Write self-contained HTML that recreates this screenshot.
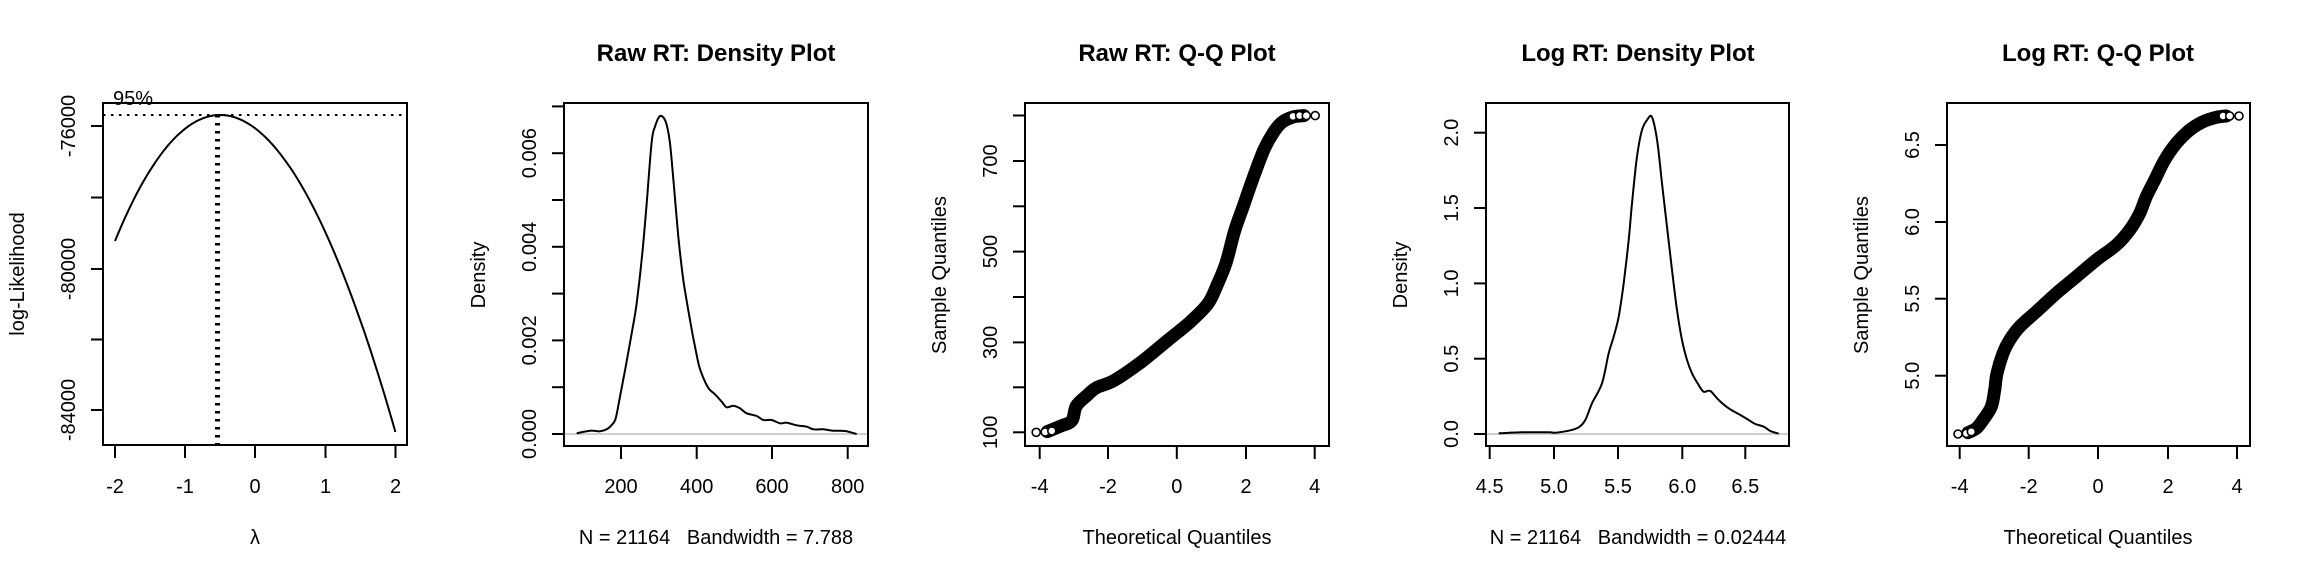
<!DOCTYPE html>
<html><head><meta charset="utf-8"><style>
html,body{margin:0;padding:0;background:#fff;}
svg{display:block;font-family:"Liberation Sans",Arial,sans-serif;}
.t{font-size:24px;font-weight:bold;text-anchor:middle;}
.l{font-size:20px;text-anchor:middle;}
.box{fill:none;stroke:#000;stroke-width:2;}
.tk{stroke:#000;stroke-width:2;}
.c{fill:none;stroke:#000;stroke-width:2;stroke-linejoin:round;}
.q{fill:none;stroke:#000;stroke-width:13;stroke-linejoin:round;stroke-linecap:round;}
.pt{fill:#fff;stroke:#000;stroke-width:1.6;}
</style></head><body>
<svg width="2304" height="576" viewBox="0 0 2304 576" xmlns="http://www.w3.org/2000/svg">
<!-- Panel 1: Box-Cox -->
<rect class="box" x="103" y="103" width="304" height="342"/>
<line x1="103" y1="115" x2="407" y2="115" stroke="#000" stroke-width="2" stroke-dasharray="2.5 5.5"/>
<line x1="217.5" y1="115" x2="217.5" y2="445" stroke="#000" stroke-width="5" stroke-dasharray="2.5 5.5"/>
<path id="p1" class="c" d=""/>
<text x="113" y="105" style="font-size:20px">95%</text>
<g class="tk">
<line x1="91" y1="126" x2="103" y2="126"/><line x1="91" y1="197.5" x2="103" y2="197.5"/><line x1="91" y1="269" x2="103" y2="269"/><line x1="91" y1="339.5" x2="103" y2="339.5"/><line x1="91" y1="410" x2="103" y2="410"/>
<line x1="115" y1="445" x2="115" y2="458"/><line x1="185" y1="445" x2="185" y2="458"/><line x1="255" y1="445" x2="255" y2="458"/><line x1="325.5" y1="445" x2="325.5" y2="458"/><line x1="395.5" y1="445" x2="395.5" y2="458"/>
</g>
<g class="l">
<text transform="translate(75,126) rotate(-90)">-76000</text>
<text transform="translate(75,269) rotate(-90)">-80000</text>
<text transform="translate(75,410) rotate(-90)">-84000</text>
<text x="115" y="493">-2</text><text x="185" y="493">-1</text><text x="255" y="493">0</text><text x="325.5" y="493">1</text><text x="395.5" y="493">2</text>
<text x="255" y="544">λ</text>
<text transform="translate(24,274) rotate(-90)">log-Likelihood</text>
</g>

<!-- Panel 2: Raw density -->
<text class="t" x="716" y="61">Raw RT: Density Plot</text>
<line x1="564" y1="434" x2="868" y2="434" stroke="#bebebe" stroke-width="1.5"/>
<path id="p2" class="c" d=""/>
<rect class="box" x="564" y="103" width="304" height="343"/>
<g class="tk">
<line x1="552" y1="434" x2="564" y2="434"/><line x1="552" y1="387.2" x2="564" y2="387.2"/><line x1="552" y1="340.4" x2="564" y2="340.4"/><line x1="552" y1="293.6" x2="564" y2="293.6"/><line x1="552" y1="246.8" x2="564" y2="246.8"/><line x1="552" y1="200" x2="564" y2="200"/><line x1="552" y1="153.2" x2="564" y2="153.2"/><line x1="552" y1="106.4" x2="564" y2="106.4"/>
<line x1="621" y1="446" x2="621" y2="459"/><line x1="696.7" y1="446" x2="696.7" y2="459"/><line x1="772" y1="446" x2="772" y2="459"/><line x1="847.7" y1="446" x2="847.7" y2="459"/>
</g>
<g class="l">
<text transform="translate(536,434) rotate(-90)">0.000</text>
<text transform="translate(536,340.4) rotate(-90)">0.002</text>
<text transform="translate(536,246.8) rotate(-90)">0.004</text>
<text transform="translate(536,153.2) rotate(-90)">0.006</text>
<text x="621" y="493">200</text><text x="696.7" y="493">400</text><text x="772" y="493">600</text><text x="847.7" y="493">800</text>
<text x="716" y="544" xml:space="preserve">N = 21164   Bandwidth = 7.788</text>
<text transform="translate(485,275) rotate(-90)">Density</text>
</g>

<!-- Panel 3: Raw QQ -->
<text class="t" x="1177" y="61">Raw RT: Q-Q Plot</text>
<path id="p3" class="q" d=""/>
<g id="p3pts"></g>
<rect class="box" x="1025" y="103" width="304" height="343"/>
<g class="tk">
<line x1="1013" y1="432.3" x2="1025" y2="432.3"/><line x1="1013" y1="387.3" x2="1025" y2="387.3"/><line x1="1013" y1="342.4" x2="1025" y2="342.4"/><line x1="1013" y1="297" x2="1025" y2="297"/><line x1="1013" y1="251.6" x2="1025" y2="251.6"/><line x1="1013" y1="206.3" x2="1025" y2="206.3"/><line x1="1013" y1="161" x2="1025" y2="161"/><line x1="1013" y1="115.5" x2="1025" y2="115.5"/>
<line x1="1039.7" y1="446" x2="1039.7" y2="459"/><line x1="1108" y1="446" x2="1108" y2="459"/><line x1="1176.8" y1="446" x2="1176.8" y2="459"/><line x1="1246" y1="446" x2="1246" y2="459"/><line x1="1314.7" y1="446" x2="1314.7" y2="459"/>
</g>
<g class="l">
<text transform="translate(997,432.3) rotate(-90)">100</text>
<text transform="translate(997,342.4) rotate(-90)">300</text>
<text transform="translate(997,251.6) rotate(-90)">500</text>
<text transform="translate(997,161) rotate(-90)">700</text>
<text x="1039.7" y="493">-4</text><text x="1108" y="493">-2</text><text x="1176.8" y="493">0</text><text x="1246" y="493">2</text><text x="1314.7" y="493">4</text>
<text x="1177" y="544">Theoretical Quantiles</text>
<text transform="translate(946,275) rotate(-90)">Sample Quantiles</text>
</g>

<!-- Panel 4: Log density -->
<text class="t" x="1638" y="61">Log RT: Density Plot</text>
<line x1="1486" y1="434" x2="1789" y2="434" stroke="#bebebe" stroke-width="1.5"/>
<path id="p4" class="c" d=""/>
<rect class="box" x="1486" y="103" width="303" height="343"/>
<g class="tk">
<line x1="1474" y1="434" x2="1486" y2="434"/><line x1="1474" y1="358.7" x2="1486" y2="358.7"/><line x1="1474" y1="283.4" x2="1486" y2="283.4"/><line x1="1474" y1="208" x2="1486" y2="208"/><line x1="1474" y1="132.7" x2="1486" y2="132.7"/>
<line x1="1489.7" y1="446" x2="1489.7" y2="459"/><line x1="1554" y1="446" x2="1554" y2="459"/><line x1="1618" y1="446" x2="1618" y2="459"/><line x1="1682.3" y1="446" x2="1682.3" y2="459"/><line x1="1745.3" y1="446" x2="1745.3" y2="459"/>
</g>
<g class="l">
<text transform="translate(1458,434) rotate(-90)">0.0</text>
<text transform="translate(1458,358.7) rotate(-90)">0.5</text>
<text transform="translate(1458,283.4) rotate(-90)">1.0</text>
<text transform="translate(1458,208) rotate(-90)">1.5</text>
<text transform="translate(1458,132.7) rotate(-90)">2.0</text>
<text x="1489.7" y="493">4.5</text><text x="1554" y="493">5.0</text><text x="1618" y="493">5.5</text><text x="1682.3" y="493">6.0</text><text x="1745.3" y="493">6.5</text>
<text x="1638" y="544" xml:space="preserve">N = 21164   Bandwidth = 0.02444</text>
<text transform="translate(1407,275) rotate(-90)">Density</text>
</g>

<!-- Panel 5: Log QQ -->
<text class="t" x="2098" y="61">Log RT: Q-Q Plot</text>
<path id="p5" class="q" d=""/>
<g id="p5pts"></g>
<rect class="box" x="1947" y="103" width="303" height="343"/>
<g class="tk">
<line x1="1935" y1="375.7" x2="1947" y2="375.7"/><line x1="1935" y1="298.7" x2="1947" y2="298.7"/><line x1="1935" y1="222" x2="1947" y2="222"/><line x1="1935" y1="145" x2="1947" y2="145"/>
<line x1="1959.7" y1="446" x2="1959.7" y2="459"/><line x1="2028.7" y1="446" x2="2028.7" y2="459"/><line x1="2098" y1="446" x2="2098" y2="459"/><line x1="2168" y1="446" x2="2168" y2="459"/><line x1="2237" y1="446" x2="2237" y2="459"/>
</g>
<g class="l">
<text transform="translate(1919,375.7) rotate(-90)">5.0</text>
<text transform="translate(1919,298.7) rotate(-90)">5.5</text>
<text transform="translate(1919,222) rotate(-90)">6.0</text>
<text transform="translate(1919,145) rotate(-90)">6.5</text>
<text x="1959.7" y="493">-4</text><text x="2028.7" y="493">-2</text><text x="2098" y="493">0</text><text x="2168" y="493">2</text><text x="2237" y="493">4</text>
<text x="2098" y="544">Theoretical Quantiles</text>
<text transform="translate(1868,275) rotate(-90)">Sample Quantiles</text>
</g>
</svg>
<script>
function smooth(pts){var d="M"+pts[0][0].toFixed(1)+","+pts[0][1].toFixed(1);
for(var i=0;i<pts.length-1;i++){var p0=pts[i-1]||pts[i],p1=pts[i],p2=pts[i+1],p3=pts[i+2]||p2;
var c1=[p1[0]+(p2[0]-p0[0])/6,p1[1]+(p2[1]-p0[1])/6],c2=[p2[0]-(p3[0]-p1[0])/6,p2[1]-(p3[1]-p1[1])/6];
d+=" C"+c1[0].toFixed(1)+","+c1[1].toFixed(1)+" "+c2[0].toFixed(1)+","+c2[1].toFixed(1)+" "+p2[0].toFixed(1)+","+p2[1].toFixed(1);}return d;}
function conv(a,ox,oy,sx,sy){return a.map(function(p){return [ox+p[0]/sx,oy+p[1]/sy];});}
var a=[];for(var i=0;i<=80;i++){var l=-2+i*0.05,d=l+0.5;var y=115+(1516*d*d-37*d*d*d)/2000*71.25;a.push([115+(l+2)*70.1,y]);}
document.getElementById('p1').setAttribute('d',"M"+a.map(function(p){return p[0].toFixed(1)+","+p[1].toFixed(1)}).join(" L"));
var p2=[[350,1120],[390,1112],[420,1114],[440,1108],[455,1095],[467,1075],[480,1010],[497,920],[515,820],[530,730],[547,580],[560,430],[575,245],[585,200],[598,170],[610,172],[620,195],[630,250],[642,380],[655,530],[670,660],[690,780],[705,860],[718,920],[735,965],[748,988],[765,1003],[785,1025],[800,1042],[820,1037],[840,1045],[860,1060],[890,1068],[910,1080],[935,1080],[960,1090],[980,1088],[1010,1096],[1040,1100],[1060,1108],[1090,1108],[1120,1112],[1155,1113],[1190,1122]];
document.getElementById('p2').setAttribute('d',smooth(conv(p2,460,60,3,3)));
var p4=[[350,1120],[420,1117],[500,1117],[520,1118],[560,1112],[590,1102],[610,1080],[630,1030],[660,970],[680,880],[695,830],[710,770],[725,670],[740,540],[750,430],[765,290],[780,210],[795,180],[808,168],[818,200],[828,260],[840,370],[855,500],[870,630],[885,750],[900,840],[915,900],[930,940],[950,975],[965,995],[985,993],[1010,1020],[1040,1045],[1070,1062],[1100,1080],[1120,1092],[1145,1100],[1165,1113],[1190,1121]];
document.getElementById('p4').setAttribute('d',smooth(conv(p4,1382,60,3,3)));
var p3=conv([[330,1180],[360,1165],[385,1150],[395,1110],[420,1080],[440,1060],[480,1040],[540,990],[600,930],[650,880],[690,830],[710,780],[730,720],[750,630],[770,560],[790,490],[815,410],[835,365],[855,335],[880,320],[905,316]],900,0,2.24,2.734);
document.getElementById('p3').setAttribute('d',smooth(p3));
var p5=conv([[375,1118],[400,1105],[420,1080],[445,1040],[455,990],[462,940],[480,880],[500,840],[530,800],[580,755],[640,700],[700,650],[760,600],[820,555],[860,510],[890,460],[910,410],[935,360],[965,300],[1000,250],[1040,210],[1080,185],[1120,172],[1150,168]],1843,60,3,3);
document.getElementById('p5').setAttribute('d',smooth(p5));
function pts(id,list){var g=document.getElementById(id),s="";list.forEach(function(p){s+='<circle class="pt" cx="'+p[0].toFixed(1)+'" cy="'+p[1].toFixed(1)+'" r="4"/>';});g.innerHTML=s;}
pts('p3pts',conv([[305,1182],[325,1181],[340,1178],[880,318],[895,316],[910,316],[930,316]],900,0,2.24,2.734));
pts('p5pts',conv([[345,1122],[370,1120],[385,1115],[1140,168],[1160,168],[1188,168]],1843,60,3,3));
</script>
</body></html>
